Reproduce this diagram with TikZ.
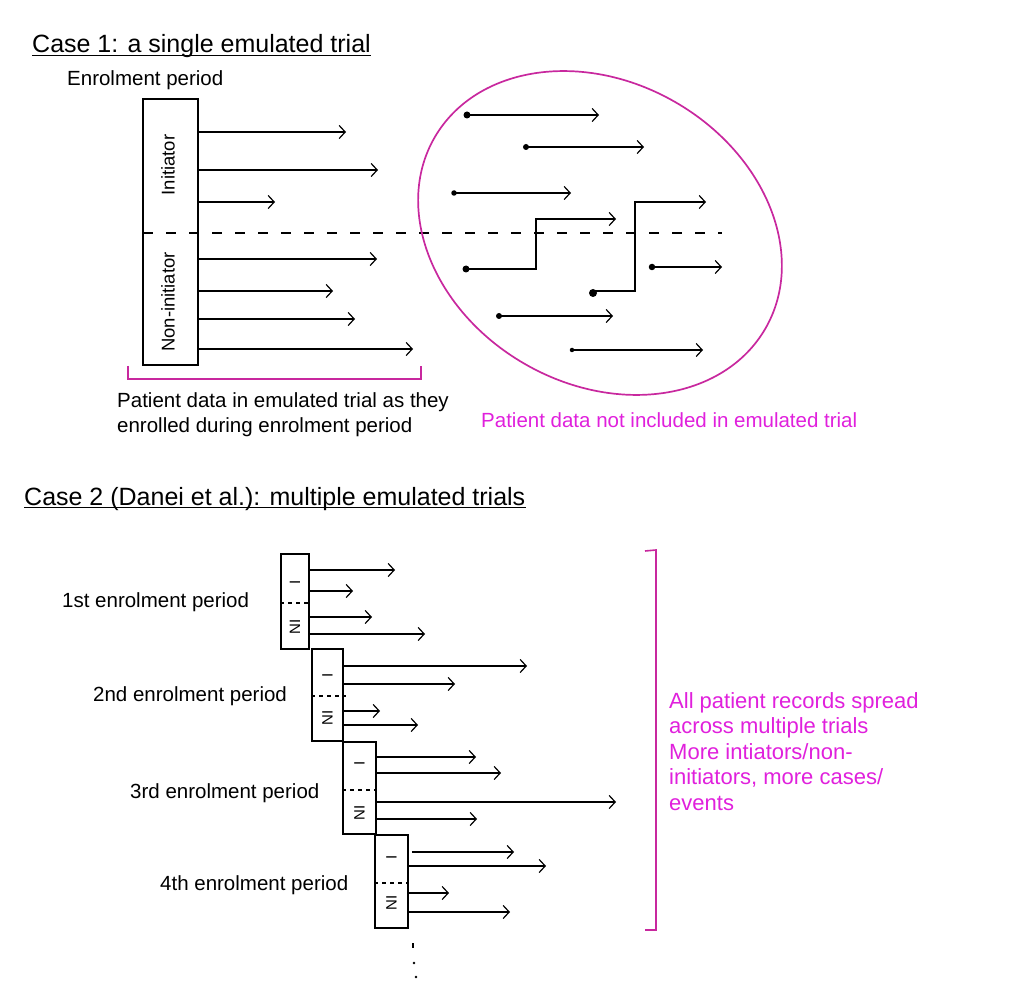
\documentclass[tikz,border=0pt]{standalone}
\usepackage{fontspec}
\setmainfont{Liberation Sans}
\usetikzlibrary{arrows.meta}
\definecolor{pinkline}{HTML}{C8289E}
\definecolor{pinktext}{HTML}{E020DC}
\begin{document}
\begin{tikzpicture}[x=1pt,y=-1pt,
  arr/.style={line width=1.6pt,-{Straight Barb[length=6pt,width=13pt,line width=1.2pt]}},
  boxx/.style={draw,line width=1.6pt,inner sep=0pt},
  txt/.style={inner sep=0pt,anchor=base west,font=\fontsize{20.5}{24}\selectfont},
  rtxt/.style={inner sep=0pt,anchor=base west,text=pinktext,font=\fontsize{22}{25}\selectfont},
  ttl/.style={inner sep=0pt,anchor=base west,font=\fontsize{25}{30}\selectfont},
  rot/.style={rotate=90,inner sep=0pt,font=\fontsize{18.5}{22}\selectfont},
  smalllab/.style={rotate=90,inner sep=0pt,font=\fontsize{15}{17}\selectfont},
  dashln/.style={line width=1.4pt,dash pattern=on 10pt off 13pt},
  sdash/.style={line width=1.3pt,dash pattern=on 4pt off 4pt},
  pinkbr/.style={draw=pinkline,line width=1.6pt},
  dot/.style={circle,fill,inner sep=0pt,minimum size=6.5pt}
]
\useasboundingbox (0,0) rectangle (1015,1000);

% ---------- Case 1 ----------
\node[ttl] (t1) at (32,53) {Case 1: a single emulated trial};
\draw[line width=1.3pt] ([yshift=-2.5pt]t1.base west) -- ([yshift=-2.5pt]t1.base east);
\node[txt] (ep) at (67,86) {Enrolment period};

\node[boxx,minimum width=55pt,minimum height=266pt] (b0) at (170.5,232) {};
\node[rot] (ini) at (168,165) {Initiator};
\node[rot] (nini) at (168,302) {Non-initiator};

\coordinate (dl) at (143,233);
\coordinate (dr) at (722,233);
\draw[dashln] (dl) -- (dr);

\foreach \y/\xe in {132/346,170/378,202/275,259/377,291/333,319/355,349/413}
  \draw[arr] (b0.east |- 0,\y) -- (\xe,\y);

\draw[pinkbr] (128,366) -- (128,379) -- (421,379) -- (421,366);
\node[txt] (pd1) at (117,407) {Patient data in emulated trial as they};
\node[txt] (pd2) at (117,432) {enrolled during enrolment period};

% ellipse
\draw[draw=pinkline,line width=1.7pt,rotate around={-30:(600,233)}] (600,233) ellipse [x radius=191, y radius=151];

\foreach \x/\y/\xe/\s in {467/115/599/7,526/147/644/6,454/193/571/5.5,652/267/722/6.5,499/316/613/6,572/350/703/4.5}{
  \node[dot,minimum size=\s pt] (d\x) at (\x,\y) {};
  \draw[arr] (d\x.center) -- (\xe,\y);
}
\node[dot,minimum size=7pt] (s1) at (466,269) {};
\draw[arr] (s1.center) -- (536,269) -- (536,219) -- (616,219);
\node[dot,minimum size=8pt] (s2) at (593,293) {};
\draw[arr] (s2.center) -- (595,291) -- (635,291) -- (635,202) -- (706,202);

\node[txt,text=pinktext] (nd) at (481,427) {Patient data not included in emulated trial};

% ---------- Case 2 ----------
\node[ttl] (t2) at (24,505) {Case 2 (Danei et al.): multiple emulated trials};
\draw[line width=1.3pt] ([yshift=-2.5pt]t2.base west) -- ([yshift=-2.5pt]t2.base east);

\node[boxx,minimum width=28pt,minimum height=95pt] (c1) at (295,601.5) {};
\node[boxx,minimum width=31pt,minimum height=92pt] (c2) at (327.5,695) {};
\node[boxx,minimum width=33pt,minimum height=92pt] (c3) at (359.5,788) {};
\node[boxx,minimum width=33pt,minimum height=93pt] (c4) at (391.5,881.5) {};

\draw[sdash] (c1.west |- 0,603) -- (c1.east |- 0,603);
\draw[sdash] (c2.west |- 0,696) -- ([xshift=2pt]c2.east |- 0,696);
\draw[sdash] (c3.west |- 0,790) -- (c3.east |- 0,790);
\draw[sdash] (c4.west |- 0,883) -- (c4.east |- 0,883);

\node[smalllab] at (295,582) {I};
\node[smalllab] at (295,627) {NI};
\node[smalllab] at (327.5,675) {I};
\node[smalllab] at (327.5,718) {NI};
\node[smalllab] at (359.5,763) {I};
\node[smalllab] at (359.5,813) {NI};
\node[smalllab] at (391.5,857) {I};
\node[smalllab] at (391.5,903) {NI};

\foreach \y/\xe in {570/395,591/353,617/372,634/425}
  \draw[arr] (c1.east |- 0,\y) -- (\xe,\y);
\foreach \y/\xe in {666/527,684/455,711/380,725/418}
  \draw[arr] (c2.east |- 0,\y) -- (\xe,\y);
\foreach \y/\xe in {757/476,773/501,802/616,819/477}
  \draw[arr] (c3.east |- 0,\y) -- (\xe,\y);
\draw[arr] ([xshift=3pt]c4.east |- 0,852) -- (514,852);
\foreach \y/\xe in {866/546,893/449,912/510}
  \draw[arr] (c4.east |- 0,\y) -- (\xe,\y);

\node[txt] (e1) at (62,607) {1st enrolment period};
\node[txt] (e2) at (93,701) {2nd enrolment period};
\node[txt] (e3) at (130,798) {3rd enrolment period};
\node[txt] (e4) at (160,890) {4th enrolment period};

% continuation dots
\draw[line width=1.4pt] (413,943) -- (413,948);
\fill (414,963) circle (1.4pt);
\fill (416,977) circle (1.4pt);

% right bracket and text
\draw[pinkbr] (645,551) -- (656,550) -- (656,930) -- (645,930);
\node[rtxt] at (669,708) {All patient records spread};
\node[rtxt] at (669,733) {across multiple trials};
\node[rtxt] at (669,759) {More intiators/non-};
\node[rtxt] at (669,784) {initiators, more cases/};
\node[rtxt] at (669,810) {events};
\end{tikzpicture}
\end{document}
